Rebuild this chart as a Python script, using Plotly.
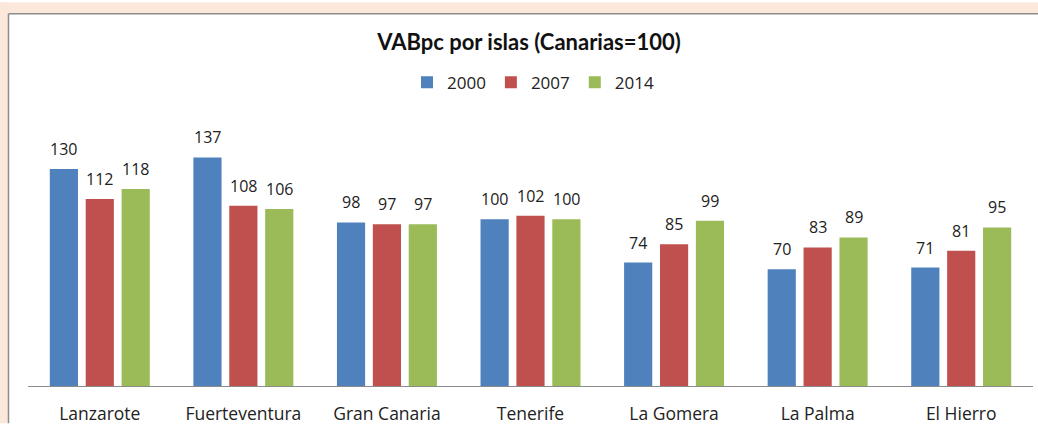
import plotly.graph_objects as go

islands = ["Lanzarote", "Fuerteventura", "Gran Canaria", "Tenerife", "La Gomera", "La Palma", "El Hierro"]
years = ["2000", "2007", "2014"]
v2000 = [130, 137, 98, 100, 74, 70, 71]
v2007 = [112, 108, 97, 102, 85, 83, 81]
v2014 = [118, 106, 97, 100, 99, 89, 95]
colors = ["#4F81BD", "#C0504D", "#9BBB59"]

W, H = 1038, 430
ML, MR, MT, MB = 28, 5, 119, 38
PW, PH = W - ML - MR, H - MT - MB
BARGAP, GROUPGAP = 0.25, 0.215

def px_x(p):
    return (p - ML) / PW

def px_y(p):
    return (H - MB - p) / PH

FONT = "Open Sans"
TFONT = "Lato"

fig = go.Figure()
series = [v2000, v2007, v2014]
slot = PW / len(islands) * (1 - BARGAP) / len(series)
annotations = []
for i, (name, vals, col) in enumerate(zip(years, series, colors)):
    fig.add_trace(go.Bar(
        x=islands, y=vals, name=name,
        marker=dict(color=col, line=dict(width=0)),
        hoverinfo="skip",
    ))
    for isl, v in zip(islands, vals):
        annotations.append(dict(
            x=isl, y=v, xref="x", yref="y", text=str(v), showarrow=False,
            xshift=(i - 1) * slot, yshift=20, yanchor="middle",
            font=dict(family=FONT, size=16, color="#222"),
        ))

shapes = [
    dict(type="rect", xref="paper", yref="paper", x0=px_x(0), x1=px_x(W), y0=px_y(0), y1=px_y(11),
         fillcolor="#FCE8DA", line=dict(width=0), layer="below"),
    dict(type="rect", xref="paper", yref="paper", x0=px_x(0), x1=px_x(8), y0=px_y(0), y1=px_y(H),
         fillcolor="#FCE8DA", line=dict(width=0), layer="below"),
    dict(type="line", xref="paper", yref="paper", x0=px_x(8.5), x1=px_x(W), y0=px_y(11.5), y1=px_y(11.5),
         line=dict(color="#8C8C8C", width=1.5)),
    dict(type="line", xref="paper", yref="paper", x0=px_x(8.5), x1=px_x(8.5), y0=px_y(11.5), y1=px_y(H),
         line=dict(color="#8C8C8C", width=1.5)),
]

fig.update_layout(
    width=W, height=H,
    margin=dict(l=ML, r=MR, t=MT, b=MB, pad=0),
    paper_bgcolor="white", plot_bgcolor="white",
    barmode="group", bargap=BARGAP, bargroupgap=GROUPGAP,
    title=dict(text="<b>VABpc por islas (Canarias=100)</b>", x=px_x(529), xref="paper", xanchor="center",
               y=1 - 42 / H, yanchor="middle", font=dict(family=TFONT, size=22, color="#111")),
    legend=dict(orientation="h", x=px_x(533), xanchor="center", y=px_y(82), yanchor="middle",
                font=dict(family=FONT, size=17, color="#222"), itemwidth=30, traceorder="normal",
                tracegroupgap=0),
    xaxis=dict(showline=True, linecolor="#8C8C8C", linewidth=1, ticks="", showgrid=False,
               tickfont=dict(family=FONT, size=17.5, color="#222"), ticklabelstandoff=12),
    yaxis=dict(range=[0, 160], visible=False, showgrid=False, zeroline=False),
    shapes=shapes,
    annotations=annotations,
    showlegend=True,
)

fig.write_html("out.html", config={"displayModeBar": False},
               post_script="document.body.style.margin='0';document.body.style.overflow='hidden';")
